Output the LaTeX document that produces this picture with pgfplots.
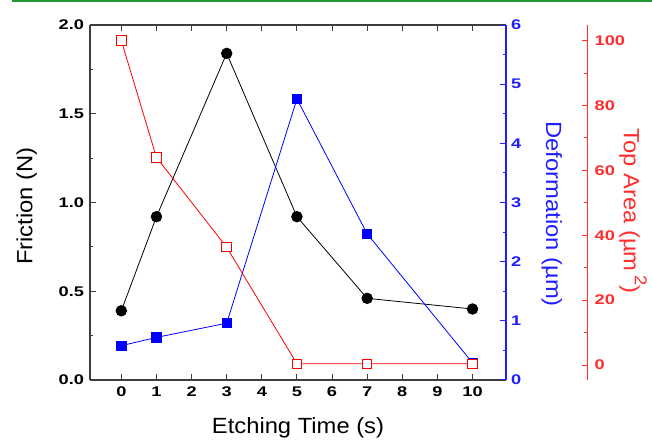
\documentclass[border=0pt]{standalone}
\usepackage{fontspec}
\usepackage{pgfplots}
\pgfplotsset{compat=1.18}
\setmainfont{Liberation Sans}
\newfontfamily\tickfont{Liberation Sans}[FakeStretch=1.3]
\newfontfamily\labfont{Liberation Sans}[FakeStretch=1.08]
\definecolor{axgray}{RGB}{60,60,60}
\definecolor{axblue}{RGB}{30,30,255}
\definecolor{axred}{RGB}{255,45,45}
\definecolor{topgreen}{RGB}{40,150,50}

\pgfplotsset{
  common/.style={
    scale only axis, width=416bp, height=355bp,
    at={(90bp,62bp)}, anchor=south west,
    xmin=-0.892, xmax=10.953,
    tick align=inside,
    major tick length=6bp, minor tick length=3.5bp,
    /pgf/number format/assume math mode=true,
    ticklabel style={font=\tickfont\bfseries\fontsize{14bp}{16bp}\selectfont},
    label style={font=\labfont\fontsize{22bp}{26bp}\selectfont},
  },
}

\begin{document}
\begin{tikzpicture}
\useasboundingbox (0,0) rectangle (652bp,442bp);
\draw[topgreen, line width=1.8bp] (12bp,441bp) -- (652bp,441bp);

% friction
\begin{axis}[common,
  axis y line*=left,
  axis line style={axgray, line width=1.3bp},
  every tick/.style={axgray, line width=1bp},
  ymin=0, ymax=2,
  ytick={0,0.5,...,2}, minor y tick num=1,
  yticklabel style={/pgf/number format/fixed, /pgf/number format/fixed zerofill, /pgf/number format/precision=1, xshift=-2.5bp},
  xtick={0,1,...,10},
  xticklabel style={yshift=-3.5bp},
  xlabel={Etching Time (s)},
  xlabel style={at={(rel axis cs:0.5,-0.135)}, anchor=center},
  ylabel={Friction (N)},
  ylabel style={at={(rel axis cs:-0.152,0.49)}, anchor=center},
]
\addplot[black, line width=0.8bp, mark=*, mark size=5.3bp, mark options={solid}]
  coordinates {(0,0.39) (1,0.92) (3,1.84) (5,0.92) (7,0.46) (10,0.40)};
\end{axis}

% deformation
\begin{axis}[common,
  hide x axis,
  axis y line*=right,
  axis line style={axblue, line width=1.3bp},
  every tick/.style={axblue, line width=1bp},
  ymin=0, ymax=6,
  ytick={0,1,...,6}, minor y tick num=1,
  yticklabel style={axblue, xshift=1.5bp},
  ylabel={Deformation (µm)},
  ylabel style={axblue, at={(rel axis cs:1.11,0.467)}, anchor=center, rotate=180},
]
\addplot[blue, line width=0.8bp, mark=square*, mark size=4.6bp, mark options={solid}]
  coordinates {(0,0.58) (1,0.72) (3,0.96) (5,4.75) (7,2.47) (10,0.29)};
\end{axis}

% top area
\begin{axis}[common,
  width=497.7bp, xmax=13.279,
  hide x axis,
  axis y line*=right,
  axis line style={axred, line width=1.3bp},
  every tick/.style={axred, line width=1bp},
  ymin=-4.6, ymax=104.8,
  ytick={0,20,...,100}, minor y tick num=1,
  yticklabel style={axred, xshift=3.5bp},
  ylabel={Top Area (µm\,\raisebox{0.5em}{\fontsize{17bp}{17bp}\selectfont 2})},
  ylabel style={axred, at={(rel axis cs:1.091,0.476)}, anchor=center, rotate=180},
]
\addplot[red, line width=0.8bp, mark=square*, mark size=4.7bp, mark options={solid, fill=white, draw=red, line width=1bp}]
  coordinates {(0,100) (1,64.0) (3,36.3) (5,0.4) (7,0.4) (10,0.4)};
\end{axis}
\end{tikzpicture}
\end{document}
